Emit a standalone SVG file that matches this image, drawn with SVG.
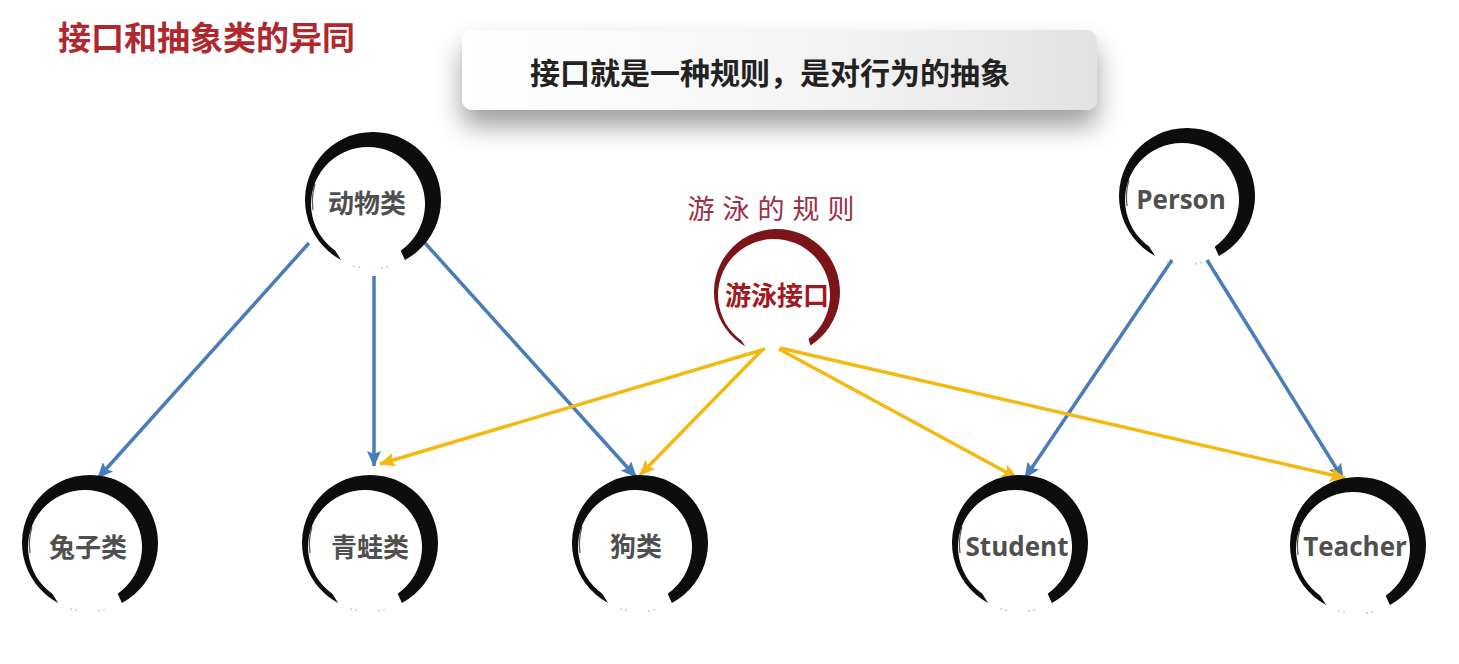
<svg xmlns="http://www.w3.org/2000/svg" xmlns:xlink="http://www.w3.org/1999/xlink" width="1459" height="664" viewBox="0 0 1459 664">
<defs>
<linearGradient id="bannerGrad" x1="0" y1="0" x2="1" y2="0">
<stop offset="0" stop-color="#ffffff"/>
<stop offset="0.6" stop-color="#f3f3f3"/>
<stop offset="1" stop-color="#e2e2e2"/>
</linearGradient>
<filter id="shadow" x="-10%" y="-30%" width="120%" height="200%">
<feDropShadow dx="0" dy="16" stdDeviation="13" flood-color="#000" flood-opacity="0.38"/>
</filter>
<marker id="arrowBlue" markerUnits="userSpaceOnUse" markerWidth="16" markerHeight="14" refX="15" refY="7" orient="auto">
<path d="M0,0 L16,7 L0,14 L3,7 Z" fill="#4a7cba"/>
</marker>
<marker id="arrowYellow" markerUnits="userSpaceOnUse" markerWidth="16" markerHeight="14" refX="15" refY="7" orient="auto">
<path d="M0,0 L16,7 L0,14 L3,7 Z" fill="#f4b80f"/>
</marker>
<g id="brush">
<path d="M-31.9,60 A68,68 0 1 1 31.9,60 L27.7,50.7 A57,57 0 1 0 -37.7,50.7 Z" fill="#0d0d0d"/>
<path d="M-52,-30 A58,58 0 0 1 -8,-57" fill="none" stroke="#0d0d0d" stroke-width="1.4" opacity="0.8"/>
<path d="M-60,10 A60,60 0 0 1 -58,-16" fill="none" stroke="#0d0d0d" stroke-width="1.2" opacity="0.7"/>
<path d="M56,28 L46,44 M60,20 L52,36 M50,40 L42,50" fill="none" stroke="#0d0d0d" stroke-width="2" opacity="0.85"/>
<path d="M-20,66 L-10,68 M8,68 L18,66" fill="none" stroke="#bbbbbb" stroke-width="1.2" stroke-dasharray="2 3"/>
</g>
<g id="brushRed">
<path d="M-31.5,54.6 A63,63 0 1 1 33.4,53.4 L31.5,47.1 A56,56 0 1 0 -35.9,48.3 Z" fill="#7b1519"/>
</g>
<style>
.title{font-family:"Noto Sans CJK SC","Noto Sans",sans-serif;font-weight:700;font-size:33px;fill:#b0282e}
.banner{font-family:"Noto Sans CJK SC","Noto Sans",sans-serif;font-weight:700;font-size:30px;fill:#222222}
.cjk{font-family:"Noto Sans CJK SC","Noto Sans",sans-serif;font-weight:700;font-size:26px;fill:#4f4f4f}
.lat{font-family:"Open Sans","Noto Sans","Liberation Sans",sans-serif;font-weight:700;font-size:26px;fill:#4f4f4f}
.red{font-family:"Noto Sans CJK SC","Noto Sans",sans-serif;font-weight:700;font-size:26px;fill:#a01a22}
.hand{font-family:"Noto Sans CJK SC","Noto Sans",sans-serif;font-weight:400;font-size:27px;fill:#9e2f44;letter-spacing:8px}
.blue{stroke:#4a7cba;stroke-width:3.5;fill:none;marker-end:url(#arrowBlue)}
.yellow{stroke:#f4b80f;stroke-width:3.5;fill:none;marker-end:url(#arrowYellow)}
</style>
</defs>
<rect width="1459" height="664" fill="#ffffff"/>
<text class="title" x="58" y="50">接口和抽象类的异同</text>
<g id="banner">
<rect x="462" y="30" width="635" height="80" rx="11" fill="url(#bannerGrad)" filter="url(#shadow)"/>
<text class="banner" x="770" y="84" text-anchor="middle">接口就是一种规则，是对行为的抽象</text>
</g>
<g id="connectors">
<line class="blue" x1="309" y1="243" x2="98" y2="478"/>
<line class="blue" x1="374" y1="276" x2="374" y2="466"/>
<line class="blue" x1="425" y1="243" x2="636" y2="477"/>
<line class="blue" x1="1172" y1="260" x2="1025" y2="478"/>
<line class="blue" x1="1207" y1="260" x2="1343" y2="479"/>
<line class="yellow" x1="765" y1="349" x2="380" y2="464"/>
<line class="yellow" x1="762" y1="350" x2="640" y2="475"/>
<line class="yellow" x1="779" y1="349" x2="1017" y2="478"/>
<line class="yellow" x1="780" y1="348" x2="1345" y2="478"/>
</g>
<g id="node-animal">
<use xlink:href="#brush" href="#brush" transform="translate(373,200)"/>
<text class="cjk" x="367" y="213" text-anchor="middle">动物类</text>
</g>
<g id="node-swim">
<text class="hand" x="775" y="219" text-anchor="middle">游泳的规则</text>
<use xlink:href="#brushRed" href="#brushRed" transform="translate(777,292)"/>
<text class="red" x="777" y="305" text-anchor="middle">游泳接口</text>
</g>
<g id="node-person">
<use xlink:href="#brush" href="#brush" transform="translate(1187,196)"/>
<text class="lat" x="1181" y="209" text-anchor="middle">Person</text>
</g>
<g id="node-rabbit">
<use xlink:href="#brush" href="#brush" transform="translate(90,543)"/>
<text class="cjk" x="88" y="557" text-anchor="middle">兔子类</text>
</g>
<g id="node-frog">
<use xlink:href="#brush" href="#brush" transform="translate(370,543)"/>
<text class="cjk" x="370" y="557" text-anchor="middle">青蛙类</text>
</g>
<g id="node-dog">
<use xlink:href="#brush" href="#brush" transform="translate(640,543)"/>
<text class="cjk" x="636" y="556" text-anchor="middle">狗类</text>
</g>
<g id="node-student">
<use xlink:href="#brush" href="#brush" transform="translate(1020,543)"/>
<text class="lat" x="1017" y="556" text-anchor="middle">Student</text>
</g>
<g id="node-teacher">
<use xlink:href="#brush" href="#brush" transform="translate(1358,545)"/>
<text class="lat" x="1355" y="556" text-anchor="middle">Teacher</text>
</g>
</svg>
